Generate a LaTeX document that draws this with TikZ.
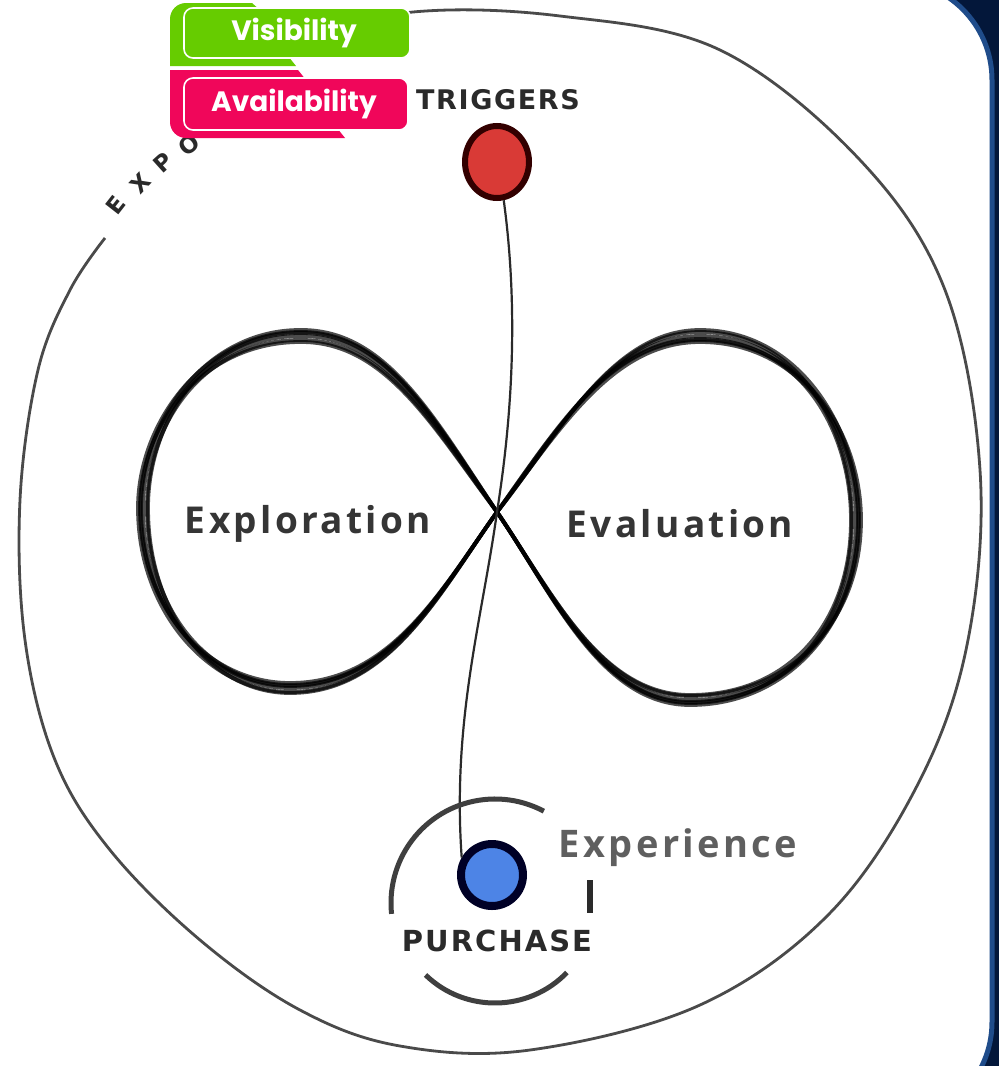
\documentclass[tikz,border=0pt]{standalone}
\usepackage{fontspec}
\usetikzlibrary{shapes.geometric}
\newfontfamily\labelfont{Poppins}
\newfontfamily\sketchfont[LetterSpace=9]{Open Sans}
\newfontfamily\sketchcaps[LetterSpace=6]{DejaVu Sans}
\newfontfamily\purchcaps[LetterSpace=7]{DejaVu Sans}
\definecolor{navy}{HTML}{03173A}
\definecolor{frameblue}{HTML}{1F4C8A}
\definecolor{labgreen}{HTML}{66CC00}
\definecolor{labpink}{HTML}{F0065A}
\definecolor{ink}{HTML}{2A2A2A}
\definecolor{dotred}{HTML}{D93A36}
\definecolor{dotblue}{HTML}{4D84E6}
\tikzset{
  outerline/.style={draw=ink!85, line width=2.8},
  loopline/.style={draw=black, line width=3.8, opacity=0.7},
  thinline/.style={draw=ink, line width=2.2},
  arcline/.style={draw=ink!90, line width=5},
  bigword/.style={text=ink!95, inner sep=0, font=\sketchfont\bfseries\fontsize{37}{40}\selectfont},
  capword/.style={text=ink, inner sep=0, font=\sketchcaps\bfseries\fontsize{27}{29}\selectfont},
  exletter/.style={text=ink, inner sep=0, font=\sketchcaps\bfseries\fontsize{23}{25}\selectfont},
  labword/.style={text=white, inner sep=0, font=\labelfont\bfseries\fontsize{28}{30}\selectfont},
  dotshape/.style={ellipse, inner sep=0},
}
\begin{document}
\begin{tikzpicture}[x=1pt,y=-1pt]
\useasboundingbox (0,0) rectangle (999,1066);
\clip (0,0) rectangle (999,1066);
% frame
\fill[navy] (900,-10) rectangle (1010,1080);
\draw[fill=white, draw=frameblue, line width=5, rounded corners=100] (-60,-20) rectangle (992,1122);

% outer blob
\draw[outerline] plot[smooth, tension=0.6] coordinates {
 (300,40) (413,12) (560,16) (720,50) (860,160) (945,290) (980,470) (968,640)
 (920,780) (830,913) (700,1005) (530,1050) (400,1046) (300,1010) (200,940)
 (110,850) (55,760) (25,640) (20,500) (38,370) (70,290) (105,238)};

% EXPO letters along the blob
\node[exletter, rotate=52] (le) at (116,205) {E};
\node[exletter, rotate=47] (lx) at (140,183) {X};
\node[exletter, rotate=42] (lp) at (163,163) {P};
\node[exletter, rotate=38] (lo) at (189,145) {O};

% infinity loop, several sketchy passes
\foreach \a/\b/\c in {0/0/0, 5/-4/4, -4/4/-3, 3/6/-5, -5/-3/5, 2/-6/-2}{
  \draw[loopline] (497,512)
    .. controls (432,{420+\b}) and (385,{335+\b}) .. (300,{336+\b})
    .. controls (205,{336+\b}) and ({143-\a},422) .. ({143-\a},508)
    .. controls ({143-\a},612) and (210,{688+\c}) .. (290,{688+\c})
    .. controls (390,{688+\c}) and (440,592) .. (497,512)
    .. controls (560,{428-\c}) and (612,{336-\b}) .. (700,{336-\b})
    .. controls (800,{336-\b}) and ({856+\a},430) .. ({856+\a},520)
    .. controls ({856+\a},622) and (790,{700-\c}) .. (690,{700-\c})
    .. controls (600,{700-\c}) and (552,592) .. (497,512);
}

% dots
\node[dotshape, minimum width=64, minimum height=72, fill=dotred, draw=black!80!red, line width=6] (trig) at (497,162) {};
\node[dotshape, minimum width=62, minimum height=62, fill=dotblue, draw=black!85!blue, line width=8] (purch) at (492,875) {};

% connector
\draw[thinline] (trig.-80) .. controls (520,320) and (510,430) .. (497,512)
   .. controls (482,620) and (452,720) .. (purch.150);

% arcs round purchase
\coordinate (pc) at (495,903);
\draw[arcline] (pc) ++(-62:104) arc[start angle=-62, end angle=-186, radius=104];
\draw[arcline] (pc) ++(-226:100) arc[start angle=-226, end angle=-316, radius=100];

% words
\node[bigword] (explo) at (308,524) {Exploration};
\node[bigword] (evalu) at (680,524) {Evaluation};
\node[bigword, text=ink!75, font=\sketchfont\fontsize{38}{40}\selectfont\bfseries] (exper) at (678,848) {Experience};
\node[capword] (trigw) at (498,100) {TRIGGERS};
\node[capword, font=\purchcaps\bfseries\fontsize{29}{31}\selectfont] (purw) at (497,941) {PURCHASE};
\draw[ink, line width=6] (590,880) -- (590,913);

% labels
\fill[labgreen] (170,66) -- (170,19) arc[start angle=180,end angle=270,radius=16]
   -- (252,3) -- (260,10) -- (260,56) -- (288,56) -- (296,66) -- cycle;
\draw[fill=labgreen, draw=white, line width=1.6, rounded corners=9] (184,8) rectangle (410,58);
\node[labword] (vis) at (294,33) {Visibility};
\fill[labpink] (170,70) -- (298,70) -- (306,80) -- (306,128) -- (337,128) -- (345,138)
   -- (186,138) arc[start angle=90,end angle=180,radius=16] -- cycle;
\draw[fill=labpink, draw=white, line width=1.6, rounded corners=9] (184,78) rectangle (408,130);
\node[labword] (avail) at (294,104) {Availability};
\end{tikzpicture}
\end{document}
